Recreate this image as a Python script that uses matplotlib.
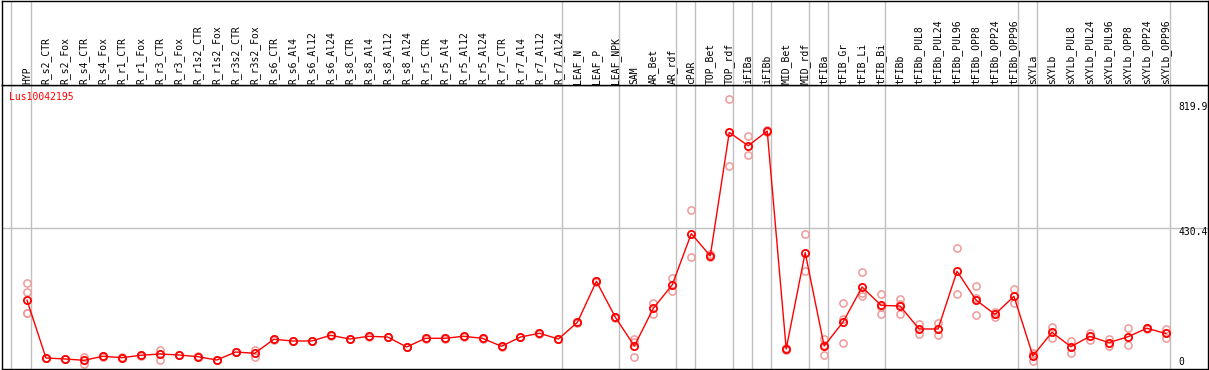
import matplotlib
matplotlib.use("Agg")
import matplotlib.pyplot as plt

categories = [
    "HYP", "R_s2_CTR", "R_s2_Fox", "R_s4_CTR", "R_s4_Fox", "R_r1_CTR", "R_r1_Fox",
    "R_r3_CTR", "R_r3_Fox", "R_r1s2_CTR", "R_r1s2_Fox", "R_r3s2_CTR", "R_r3s2_Fox",
    "R_s6_CTR", "R_s6_Al4", "R_s6_Al12", "R_s6_Al24", "R_s8_CTR", "R_s8_Al4",
    "R_s8_Al12", "R_s8_Al24", "R_r5_CTR", "R_r5_Al4", "R_r5_Al12", "R_r5_Al24",
    "R_r7_CTR", "R_r7_Al4", "R_r7_Al12", "R_r7_Al24", "LEAF_N", "LEAF_P", "LEAF_NPK",
    "SAM", "AR_Bet", "AR_rdf", "cPAR", "TOP_Bet", "TOP_rdf", "iFIBa", "iFIBb",
    "MID_Bet", "MID_rdf", "tFIBa", "tFIB_Gr", "tFIB_Li", "tFIB_Bi", "tFIBb",
    "tFIBb_PUL8", "tFIBb_PUL24", "tFIBb_PUL96", "tFIBb_OPP8", "tFIBb_OPP24",
    "tFIBb_OPP96", "sXYLa", "sXYLb", "sXYLb_PUL8", "sXYLb_PUL24", "sXYLb_PUL96",
    "sXYLb_OPP8", "sXYLb_OPP24", "sXYLb_OPP96",
]

means = [
    214.6, 40.9, 37.9, 33.9, 46.0, 41.8, 49.0, 52.9, 49.9, 44.8, 34.8, 58.9, 55.0,
    97.0, 91.9, 91.9, 109.0, 97.9, 106.0, 103.9, 73.9, 100.0, 100.0, 106.0, 100.0,
    76.0, 103.9, 115.1, 97.9, 148.1, 271.3, 163.1, 76.9, 190.0, 261.0, 414.4,
    347.5, 718.5, 678.3, 722.5, 68.0, 357.5, 76.7, 149.3, 254.0, 199.0, 197.0,
    128.0, 128.0, 301.3, 215.0, 172.0, 226.2, 47.0, 118.1, 74.8, 105.9, 87.0,
    104.5, 130.1, 114.5,
]

replicates = [
    [265.3, 238.2, 177.5, 177.5], [42.0, 39.8], [39.0, 36.8], [44.8, 23.7],
    [47.2, 44.8], [43.0, 40.6], [50.2, 47.8], [65.8, 35.7], [51.0, 48.8],
    [46.0, 43.6], [36.0, 33.6], [60.1, 57.7], [64.9, 44.8], [98.2, 95.8],
    [93.1, 90.7], [93.1, 90.7], [110.2, 107.8], [99.1, 96.7], [107.2, 104.8],
    [105.1, 102.7], [75.1, 72.7], [101.2, 98.8], [101.2, 98.8], [107.2, 104.8],
    [101.2, 98.8], [77.2, 74.8], [105.1, 102.7], [116.3, 113.9], [99.1, 96.7],
    [149.3, 146.9], [272.5, 270.1], [164.3, 161.9], [97.0, 90.0, 43.0],
    [207.0, 174.0], [281.0, 241.0], [484.5, 344.3], [352.0, 343.0],
    [819.9, 617.1], [706.8, 649.8], [726.0, 719.0], [70.0, 66.0], [413.0, 302.0],
    [98.0, 81.0, 51.0], [205.0, 158.0, 85.0], [298.0, 237.0, 227.0],
    [232.0, 193.0, 172.0], [217.0, 202.0, 172.0], [143.0, 113.0], [147.0, 109.0],
    [370.4, 232.2], [256.0, 220.0, 169.0], [180.0, 173.0, 163.0], [247.2, 205.2],
    [55.0, 53.0, 33.0], [135.0, 102.0], [92.8, 56.8], [116.9, 94.9], [97.0, 76.9],
    [130.1, 79.0], [132.0, 128.0], [127.1, 101.8],
]

separators_after = [0, 28, 31, 34, 35, 37, 38, 39, 41, 42, 45, 52, 53, 60]
y_max = 819.9
y_mid = 430.4
y_tick_labels = ["819.9", "430.4", "0"]
title = "Lus10042195"

W, H = 1209, 370
fig = plt.figure(figsize=(W / 100, H / 100), dpi=100)


def fx(px):
    return px / W


def fy(py):
    return 1 - py / H


X0, DX = 27.0, 18.98
xlim = ((1.5 - X0) / DX, (1208 - X0) / DX)
grid_col = "#c0c0c0"
mono = "DejaVu Sans Mono"

ax = fig.add_axes([fx(1.5), fy(369), fx(1208) - fx(1.5), fy(85) - fy(369)])
ax.set_xlim(xlim)
ax.set_ylim(7.8, y_max * 1.05)
ax.set_xticks([])
ax.set_yticks([])
for s in ax.spines.values():
    s.set_color("black")
    s.set_linewidth(1)

hax = fig.add_axes([fx(1.5), fy(85), fx(1208) - fx(1.5), fy(0.5) - fy(85)])
hax.set_xlim(xlim)
hax.set_ylim(85, 0.5)
hax.set_xticks([])
hax.set_yticks([])
for s in hax.spines.values():
    s.set_color("black")
    s.set_linewidth(1)

seps = [-0.84] + [i + 0.2 for i in separators_after]
for a in (ax, hax):
    for sx in seps:
        a.axvline(sx, color=grid_col, lw=1, zorder=1)
ax.axhline(y_mid, color=grid_col, lw=1, zorder=1)

xs = list(range(len(categories)))
rx, ry = [], []
for i, reps in enumerate(replicates):
    for v in reps:
        rx.append(i)
        ry.append(v)
ax.plot(rx, ry, linestyle="none", marker="o", ms=5.2, mfc="none",
        mec="#f09a9a", mew=1.1, zorder=2)
ax.plot(xs, means, color="red", lw=1, marker="o", ms=5.2, mfc="none",
        mec="red", mew=1.3, zorder=3)

for i, c in enumerate(categories):
    hax.text(i, 83.5, c, rotation=90, ha="center", va="bottom",
             fontsize=7, family=mono, color="black")

fig.text(fx(9.5), fy(96.7), title, color="red", fontsize=7, family=mono,
         ha="left", va="center")
for lab, py in zip(y_tick_labels, [107, 232, 362]):
    fig.text(fx(1178.5), fy(py), lab, color="black", fontsize=7, family=mono,
             ha="left", va="center")

fig.savefig("out.png", dpi=100)
